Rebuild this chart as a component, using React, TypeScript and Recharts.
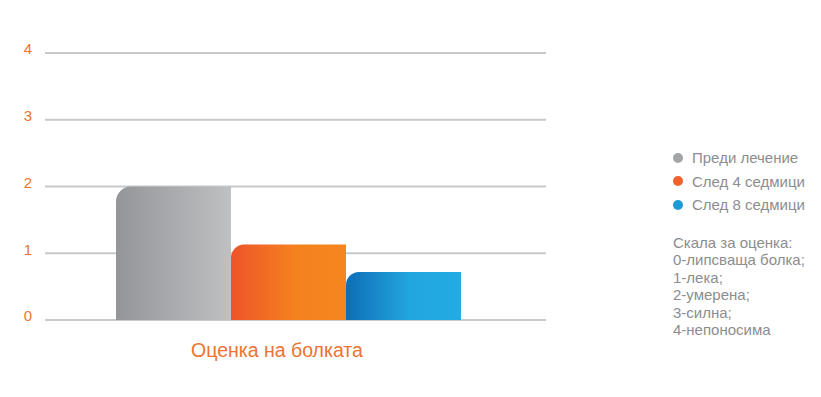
import React from "react";
import { Bar, BarChart, CartesianGrid, XAxis, YAxis } from "recharts";

const categories = ["Оценка на болката"];
const beforeTreatment = [2];
const after4Weeks = [1.13];
const after8Weeks = [0.72];
const seriesNames = ["Преди лечение", "След 4 седмици", "След 8 седмици"];
const yTicks = [0, 1, 2, 3, 4];
const scaleNotes = [
  "Скала за оценка:",
  "0-липсваща болка;",
  "1-лека;",
  "2-умерена;",
  "3-силна;",
  "4-непоносима",
];

const data = categories.map((name, i) => ({
  name,
  before: beforeTreatment[i],
  w4: after4Weeks[i],
  w8: after8Weeks[i],
}));

const FONT = "'Liberation Sans', Arial, sans-serif";
const ORANGE = "#ec7430";
const TEXT_GRAY = "#8c8d90";
const dotColors = ["#a4a5a8", "#f0622a", "#1e9ad8"];

function SideLegend() {
  return (
    <div
      style={{
        position: "absolute",
        left: 673,
        top: 146,
        width: 148,
        fontFamily: FONT,
        color: TEXT_GRAY,
        fontSize: 15,
      }}
    >
      {seriesNames.map((s, i) => (
        <div key={s} style={{ display: "flex", alignItems: "center", height: 23.5 }}>
          <span
            style={{
              width: 10,
              height: 10,
              borderRadius: "50%",
              background: dotColors[i],
              marginRight: 9,
              display: "inline-block",
            }}
          />
          {s}
        </div>
      ))}
      <div style={{ marginTop: 17, lineHeight: "17.5px" }}>
        {scaleNotes.map((t) => (
          <div key={t}>{t}</div>
        ))}
      </div>
    </div>
  );
}

export default function App() {
  return (
    <div style={{ position: "absolute", left: 0, top: 0, width: 821, height: 397, background: "#fff" }}>
      <BarChart
        width={821}
        height={397}
        data={data}
        margin={{ top: 53, right: 275, left: 0, bottom: 0 }}
        barCategoryGap={71}
        barGap={0}
      >
        <defs>
          <linearGradient id="gGray" x1="0" y1="0" x2="1" y2="0">
            <stop offset="0%" stopColor="#949599" />
            <stop offset="100%" stopColor="#bfc0c2" />
          </linearGradient>
          <linearGradient id="gOrange" x1="0" y1="0" x2="1" y2="0">
            <stop offset="0%" stopColor="#ee5429" />
            <stop offset="55%" stopColor="#f4811f" />
            <stop offset="100%" stopColor="#f6861f" />
          </linearGradient>
          <linearGradient id="gBlue" x1="0" y1="0" x2="1" y2="0">
            <stop offset="0%" stopColor="#0f6db5" />
            <stop offset="55%" stopColor="#22a6df" />
            <stop offset="100%" stopColor="#24abe2" />
          </linearGradient>
        </defs>
        <CartesianGrid stroke="#c8c9cb" strokeWidth={2} vertical={false} />
        <XAxis
          dataKey="name"
          axisLine={false}
          tickLine={false}
          height={77}
          padding={{ left: 0, right: 15 }}
          tick={{ fill: ORANGE, fontSize: 19.5, fontFamily: FONT, dx: -11, dy: 15 }}
        />
        <YAxis
          domain={[0, 4]}
          ticks={yTicks}
          width={45}
          axisLine={false}
          tickLine={false}
          tickMargin={7}
          tick={{ fill: ORANGE, fontSize: 15, fontFamily: FONT, dy: -4 }}
        />
        <Bar dataKey="before" name={seriesNames[0]} fill="url(#gGray)" radius={[15, 0, 0, 0]} isAnimationActive={false} />
        <Bar dataKey="w4" name={seriesNames[1]} fill="url(#gOrange)" radius={[13, 0, 0, 0]} isAnimationActive={false} />
        <Bar dataKey="w8" name={seriesNames[2]} fill="url(#gBlue)" radius={[13, 0, 0, 0]} isAnimationActive={false} />
      </BarChart>
      <SideLegend />
    </div>
  );
}
